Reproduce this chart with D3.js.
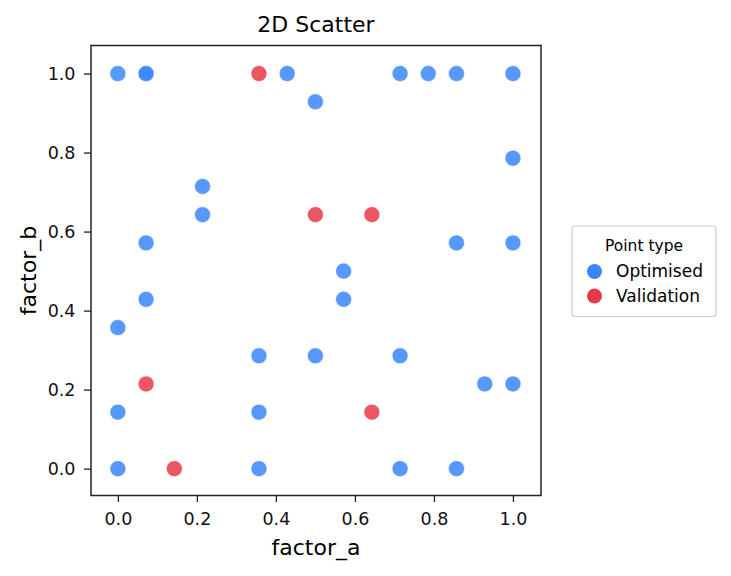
<!DOCTYPE html>
<html>
<head>
<meta charset="utf-8">
<script src="https://cdn.jsdelivr.net/npm/d3@7"></script>
<style>
  body { margin: 0; background: #fff; }
  text { font-family: "DejaVu Sans", sans-serif; }
</style>
</head>
<body>
<div id="chart"></div>
<script>
// Data (factor values on a 1/14 grid)
const opt_a = [0, 0.0714, 0.0714, 0.4286, 0.7143, 0.7857, 0.8571, 1.0,
    0.5, 1.0, 0.2143, 0.2143, 0.0714, 0.8571, 1.0, 0.5714, 0.0714, 0.5714,
    0, 0.3571, 0.5, 0.7143, 0.9286, 1.0, 0, 0.3571, 0, 0.3571, 0.7143, 0.8571]
const opt_b = [1.0, 1.0, 1.0, 1.0, 1.0, 1.0, 1.0, 1.0,
    0.9286, 0.7857, 0.7143, 0.6429, 0.5714, 0.5714, 0.5714, 0.5, 0.4286, 0.4286,
    0.3571, 0.2857, 0.2857, 0.2857, 0.2143, 0.2143, 0.1429, 0.1429, 0, 0, 0, 0]
const val_a = [0.3571, 0.5, 0.6429, 0.0714, 0.6429, 0.1429]
const val_b = [1.0, 0.6429, 0.6429, 0.2143, 0.1429, 0]
const ticks = [0, 0.2, 0.4, 0.6, 0.8, 1.0]
const series = ["Optimised", "Validation"]

const W = 731, H = 576
const plot = { left: 91, top: 45.5, right: 541, bottom: 495.5 }

const blue = "#3a86ff", red = "#e63946"

const svg = d3.select("#chart").append("svg")
    .attr("width", W)
    .attr("height", H)

const x = d3.scaleLinear().domain([-0.068, 1.071]).range([plot.left, plot.right])
const y = d3.scaleLinear().domain([-0.068, 1.071]).range([plot.bottom, plot.top])

// points
const pts = []
opt_a.forEach((a, i) => pts.push({ a: a, b: opt_b[i], c: blue }))
val_a.forEach((a, i) => pts.push({ a: a, b: val_b[i], c: red }))

svg.append("g").selectAll("circle")
    .data(pts)
    .join("circle")
    .attr("cx", d => x(d.a))
    .attr("cy", d => y(d.b))
    .attr("r", 8)
    .attr("fill", d => d.c)
    .attr("fill-opacity", 0.85)
    .attr("stroke", "#fff")
    .attr("stroke-width", 0.6)

// axes
const xAxis = svg.append("g")
    .attr("transform", `translate(0,${plot.bottom})`)
    .call(d3.axisBottom(x).tickValues(ticks).tickFormat(d3.format(".1f")).tickSizeOuter(0).tickSize(6.5).tickPadding(10.5))
const yAxis = svg.append("g")
    .attr("transform", `translate(${plot.left},0)`)
    .call(d3.axisLeft(y).tickValues(ticks).tickFormat(d3.format(".1f")).tickSizeOuter(0).tickSize(7).tickPadding(8.5))

for (const ax of [xAxis, yAxis]) {
    ax.attr("font-size", null).attr("font-family", null)
    ax.select(".domain").remove()
    ax.selectAll(".tick line").attr("stroke", "#222").attr("stroke-width", 1.3)
    ax.selectAll(".tick text")
        .style("font-size", "17.5px")
        .style("font-family", "DejaVu Sans")
        .attr("fill", "#111")
}

// frame
svg.append("rect")
    .attr("x", plot.left).attr("y", plot.top)
    .attr("width", plot.right - plot.left)
    .attr("height", plot.bottom - plot.top)
    .attr("fill", "none")
    .attr("stroke", "#222")
    .attr("stroke-width", 1.5)

// titles
svg.append("text")
    .attr("x", (plot.left + plot.right) / 2).attr("y", 32)
    .attr("text-anchor", "middle")
    .style("font-size", "22px")
    .text("2D Scatter")

svg.append("text")
    .attr("x", (plot.left + plot.right) / 2).attr("y", 555)
    .attr("text-anchor", "middle")
    .style("font-size", "22px")
    .text("factor_a")

svg.append("text")
    .attr("transform", `translate(36,${(plot.top + plot.bottom) / 2}) rotate(-90)`)
    .attr("text-anchor", "middle")
    .style("font-size", "22px")
    .text("factor_b")

// legend
const lg = svg.append("g")
lg.append("rect")
    .attr("x", 572).attr("y", 226)
    .attr("width", 144).attr("height", 90.5)
    .attr("rx", 3)
    .attr("fill", "#fff")
    .attr("stroke", "#ccc")
    .attr("stroke-width", 1.2)

lg.append("text")
    .attr("x", 644).attr("y", 250.5)
    .attr("text-anchor", "middle")
    .style("font-size", "15.5px")
    .text("Point type")

series.forEach((s, i) => {
    const yy = 271.5 + i * 24.5
    lg.append("circle")
        .attr("cx", 594.5).attr("cy", yy)
        .attr("r", 7.5)
        .attr("fill", i === 0 ? blue : red)
    lg.append("text")
        .attr("x", 616).attr("y", yy + 5.5)
        .style("font-size", "17px")
        .text(s)
})
</script>
</body>
</html>
